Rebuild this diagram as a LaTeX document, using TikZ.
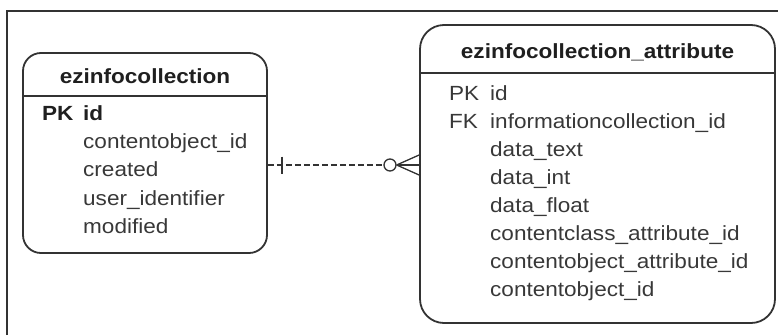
\documentclass[tikz,border=0pt]{standalone}
\usepackage{fontspec}
\setmainfont{Liberation Sans}[FakeStretch=1.1]
\usetikzlibrary{calc}
\begin{document}
\begin{tikzpicture}[x=1pt,y=-1pt,
  ink/.style={draw=black!80},
  table/.style={ink,line width=1.8pt,rounded corners=#1,inner sep=0pt},
  rule/.style={ink,line width=1.5pt},
  title/.style={anchor=base,inner sep=0pt,text=black!88,font=\fontsize{20.5}{24}\selectfont\bfseries},
  field/.style={anchor=base west,inner sep=0pt,text=black!78,font=\fontsize{20.5}{24}\selectfont},
  keyfield/.style={field,text=black!88,font=\fontsize{20.5}{24}\selectfont\bfseries},
  rel/.style={ink,line width=1.3pt}]
\useasboundingbox (0,0) rectangle (778,335);
% outer frame
\draw[rule] (7,335) -- (7,11) -- (778,11);

% ---- ezinfocollection ----
\node[table=18pt,minimum width=244pt,minimum height=200pt] (lb) at (145,153) {};
\node[title] (lt) at (145,83.3) {ezinfocollection};
\draw[rule] (lb.west |- 0,96) -- (lb.east |- 0,96);
\node[keyfield] (lpk) at (42,120) {PK};
\node[keyfield] (lf1) at (83,120) {id};
\node[field] (lf2) at (83,148.4) {contentobject\_id};
\node[field] (lf3) at (83,176.8) {created};
\node[field] (lf4) at (83,205.2) {user\_identifier};
\node[field] (lf5) at (83,233.6) {modified};

% ---- ezinfocollection_attribute ----
\node[table=24pt,minimum width=355pt,minimum height=298pt] (rb) at (597.5,174) {};
\node[title] (rt) at (597.5,58.3) {ezinfocollection\_attribute};
\draw[rule] (rb.west |- 0,73) -- (rb.east |- 0,73);
\node[field] (rpk) at (449,100.7) {PK};
\node[field] (rfk) at (449,128.4) {FK};
\node[field] (rf1) at (490,100.7) {id};
\node[field] (rf2) at (490,128.4) {informationcollection\_id};
\node[field] (rf3) at (490,156.4) {data\_text};
\node[field] (rf4) at (490,184.4) {data\_int};
\node[field] (rf5) at (490,212.4) {data\_float};
\node[field] (rf6) at (490,240.4) {contentclass\_attribute\_id};
\node[field] (rf7) at (490,268.4) {contentobject\_attribute\_id};
\node[field] (rf8) at (490,296.4) {contentobject\_id};

% ---- relationship: one to zero-or-many ----
\coordinate (la) at (lb.east |- 0,165);
\coordinate (ra) at (rb.west |- 0,165);
\node[circle,rel,minimum size=12pt,inner sep=0pt,fill=white] (oc) at (390,165) {};
\draw[rel,dash pattern=on 6pt off 3pt] (la) -- (oc.west);
\draw[rel] (la) ++(14,-8.5) -- ++(0,17);
\draw[rel] (oc.east) -- (ra);
\draw[rel] (oc.east) -- ($(ra)+(0,-10)$);
\draw[rel] (oc.east) -- ($(ra)+(0,10)$);
\end{tikzpicture}
\end{document}
